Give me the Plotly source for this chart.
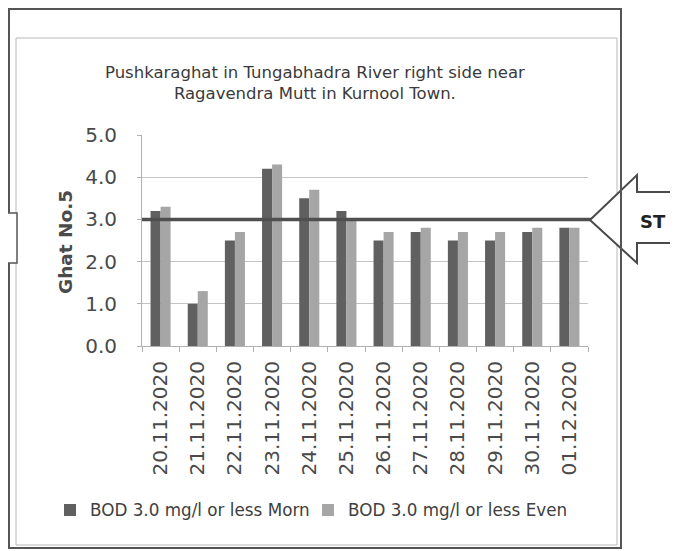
import plotly.graph_objects as go

dates = ["20.11.2020", "21.11.2020", "22.11.2020", "23.11.2020", "24.11.2020", "25.11.2020",
         "26.11.2020", "27.11.2020", "28.11.2020", "29.11.2020", "30.11.2020", "01.12.2020"]
morn = [3.2, 1.0, 2.5, 4.2, 3.5, 3.2, 2.5, 2.7, 2.5, 2.5, 2.7, 2.8]
even = [3.3, 1.3, 2.7, 4.3, 3.7, 3.0, 2.7, 2.8, 2.7, 2.7, 2.8, 2.8]
standard = 3.0
y_ticks = [0.0, 1.0, 2.0, 3.0, 4.0, 5.0]
title_lines = ["Pushkaraghat in Tungabhadra River right side near", "Ragavendra Mutt in Kurnool Town."]
y_title = "Ghat No.5"
names = ["BOD 3.0 mg/l or less Morn", "BOD 3.0 mg/l or less Even"]

W, H = 678, 551
OFF = 8  # page body margin offset in the browser
L, R, T, B = 142 - OFF, 588 - OFF, 135 - OFF, 346 - OFF
FONT = "DejaVu Sans"


def px(x):
    return (x - OFF - L) / (R - L)


def py(y):
    return (B - (y - OFF)) / (B - T)


def cx(x):
    return (x - OFF) / W


def cy(y):
    return 1 - (y - OFF) / H


fig = go.Figure()
fig.add_trace(go.Bar(x=dates, y=morn, name=names[0], legend="legend",
                     marker=dict(color="#606060", line=dict(width=0))))
fig.add_trace(go.Bar(x=dates, y=even, name=names[1], legend="legend2",
                     marker=dict(color="#a6a6a6", line=dict(width=0))))

shapes = []
# outer frame (left/top edges clipped by page margin -> drawn at first visible pixels)
shapes.append(dict(type="rect", xref="paper", yref="paper", x0=px(9), x1=px(621), y0=py(9), y1=py(548),
                   line=dict(color="#555555", width=2), layer="below"))
# inner chart frame
shapes.append(dict(type="rect", xref="paper", yref="paper", x0=px(16), x1=px(617), y0=py(38), y1=py(545),
                   line=dict(color="#b8b8b8", width=1), layer="below"))
# left bracket shape (cut off)
shapes.append(dict(type="path", xref="paper", yref="paper",
                   path=f"M {px(-2)},{py(213)} L {px(17)},{py(213)} L {px(17)},{py(263)} L {px(-2)},{py(263)}",
                   line=dict(color="#555555", width=1.5), fillcolor="white"))
# standard line
shapes.append(dict(type="line", xref="paper", yref="y", x0=0, x1=px(592), y0=standard, y1=standard,
                   line=dict(color="#4f4f4f", width=3.5)))
# ST arrow callout
tip = (590, 220)
arrow = (f"M {px(tip[0])},{py(tip[1])} L {px(637)},{py(175)} L {px(637)},{py(192)} L {px(700)},{py(192)} "
         f"L {px(700)},{py(243)} L {px(637)},{py(243)} L {px(637)},{py(263)} Z")
shapes.append(dict(type="path", xref="paper", yref="paper", path=arrow,
                   line=dict(color="#4a4a4a", width=2), fillcolor="white"))
# outer frame right edge passes over arrow
shapes.append(dict(type="line", xref="paper", yref="paper", x0=px(621), x1=px(621), y0=py(9), y1=py(548),
                   line=dict(color="#555555", width=2)))

annotations = [
    dict(text="<br>".join(title_lines), xref="paper", yref="paper", x=px(315), y=py(83),
         xanchor="center", yanchor="middle", showarrow=False,
         font=dict(family=FONT, size=16.5, color="#3a3a3a")),
    dict(text=f"<b>{y_title}</b>", xref="paper", yref="paper", x=px(65), y=py(242),
         xanchor="center", yanchor="middle", textangle=-90, showarrow=False,
         font=dict(family=FONT, size=18.5, color="#4a4a4a")),
    dict(text="<b>ST</b>", xref="paper", yref="paper", x=px(653), y=py(221),
         xanchor="center", yanchor="middle", showarrow=False,
         font=dict(family=FONT, size=18, color="#222222")),
]

legend_common = dict(orientation="h", xref="container", yref="container",
                     xanchor="left", yanchor="middle",
                     font=dict(family=FONT, size=16.8, color="#404040"), bgcolor="rgba(0,0,0,0)",
                     itemwidth=30, tracegroupgap=0)

fig.update_layout(
    width=W, height=H,
    margin=dict(l=L, r=W - R, t=T, b=H - B, autoexpand=False),
    paper_bgcolor="white", plot_bgcolor="white",
    barmode="group", bargap=0.46, bargroupgap=0.0,
    shapes=shapes, annotations=annotations,
    showlegend=True,
    legend=dict(x=cx(50), y=cy(510), **legend_common),
    legend2=dict(x=cx(308), y=cy(510), **legend_common),
    font=dict(family=FONT),
)
fig.update_yaxes(range=[0, 5.0], tickvals=y_ticks, ticktext=[f"{v:.1f}" for v in y_ticks],
                 showgrid=True, gridcolor="#c4c4c4", gridwidth=1,
                 showline=True, linecolor="#b0b0b0", linewidth=1, ticks="outside", ticklen=4,
                 tickcolor="#b0b0b0", ticklabelstandoff=16,
                 tickfont=dict(family=FONT, size=20, color="#4a4a4a"), zeroline=False)
fig.update_xaxes(tickangle=-90, showline=True, linecolor="#b0b0b0", linewidth=1,
                 ticks="outside", ticklen=5, tickcolor="#b0b0b0", tickson="boundaries",
                 ticklabelstandoff=6,
                 tickfont=dict(family=FONT, size=20, color="#4a4a4a"), showgrid=False)

fig.write_html("out.html")
